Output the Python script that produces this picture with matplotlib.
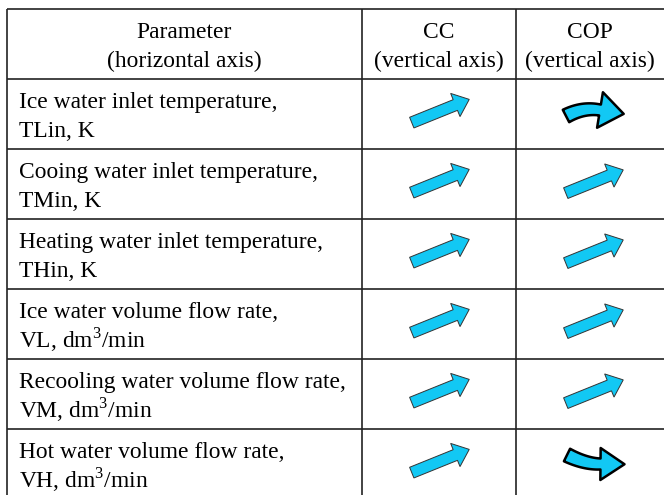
import numpy as np
import matplotlib
matplotlib.use("Agg")
import matplotlib.pyplot as plt
from matplotlib.patches import Polygon

plt.rcParams["font.family"] = ["Liberation Serif", "DejaVu Serif"]
plt.rcParams["mathtext.fontset"] = "custom"
plt.rcParams["mathtext.rm"] = "Liberation Serif"

# Table content
header = [("Parameter", "(horizontal axis)"),
          ("CC", "(vertical axis)"),
          ("COP", "(vertical axis)")]
parameters = [
    ("Ice water inlet temperature,", "TLin, K"),
    ("Cooing water inlet temperature,", "TMin, K"),
    ("Heating water inlet temperature,", "THin, K"),
    ("Ice water volume flow rate,", r"VL, dm$^{\mathrm{3}}$/min"),
    ("Recooling water volume flow rate,", r"VM, dm$^{\mathrm{3}}$/min"),
    ("Hot water volume flow rate,", r"VH, dm$^{\mathrm{3}}$/min"),
]
# Trend of each response with the parameter
cc_trend = ["increase", "increase", "increase", "increase", "increase", "increase"]
cop_trend = ["rise_flatten", "increase", "increase", "increase", "increase", "rise_fall"]

# Layout (pixel units, y downward)
W, H = 664, 495
col_edges = [7, 362, 516, 664]
top = 9
row_h = 70
n_rows = len(parameters) + 1
row_edges = [top + i * row_h for i in range(n_rows + 1)]

fig = plt.figure(figsize=(W / 100, H / 100), dpi=100)
ax = fig.add_axes([0, 0, 1, 1])
ax.set_xlim(0, W)
ax.set_ylim(H, 0)
ax.axis("off")

line_kw = dict(color="#222222", lw=1.2, solid_capstyle="butt")
for y in row_edges[:-1]:
    ax.plot([col_edges[0], W], [y, y], **line_kw)
for x in col_edges[:-1]:
    ax.plot([x, x], [top, H], **line_kw)

fs = 16.9
for j, (l1, l2) in enumerate(header):
    cx = (col_edges[j] + col_edges[j + 1]) / 2
    ax.text(cx, top + 29, l1, ha="center", va="baseline", fontsize=fs)
    ax.text(cx, top + 58, l2, ha="center", va="baseline", fontsize=fs)

for i, (l1, l2) in enumerate(parameters):
    y0 = row_edges[i + 1]
    ax.text(19, y0 + 29, l1, ha="left", va="baseline", fontsize=fs)
    ax.text(19, y0 + 58, l2, ha="left", va="baseline", fontsize=fs)

CYAN = "#12c8f4"


def arrow_polygon(center_pts, shaft_w, head_w, head_l):
    """Outline of an arrow whose shaft follows center_pts and ends in a head."""
    p = np.asarray(center_pts, float)
    d = np.gradient(p, axis=0)
    d /= np.linalg.norm(d, axis=1)[:, None]
    nrm = np.column_stack([-d[:, 1], d[:, 0]])
    sw = np.broadcast_to(np.asarray(shaft_w, float), (len(p),))[:, None]
    left = p + nrm * sw / 2
    right = p - nrm * sw / 2
    end, de, ne = p[-1], d[-1], nrm[-1]
    tip = end + de * head_l
    head = [end + ne * head_w / 2, tip, end - ne * head_w / 2]
    return np.vstack([left, head, right[::-1]])


def straight(cx, cy):
    ang = np.deg2rad(22)
    u = np.array([np.cos(ang), -np.sin(ang)])
    c = np.array([cx, cy])
    total, hl = 62, 15
    start = c - u * total / 2
    end = c + u * (total / 2 - hl)
    pts = [start + t * (end - start) for t in np.linspace(0, 1, 10)]
    return arrow_polygon(pts, 11.5, 25, hl)


def bezier(p0, p1, p2, n=30):
    t = np.linspace(0, 1, n)[:, None]
    p0, p1, p2 = map(np.asarray, (p0, p1, p2))
    return (1 - t) ** 2 * p0 + 2 * (1 - t) * t * p1 + t ** 2 * p2


def curved(kind, cx, cy):
    if kind == "rise_flatten":
        pts = bezier((cx - 24, cy + 2), (cx - 7, cy - 7), (cx + 10, cy - 4))
        return arrow_polygon(pts, np.linspace(14, 11, len(pts)), 36, 24)
    pts = bezier((cx - 23, cy - 9), (cx - 5, cy + 0), (cx + 10.5, cy + 0))
    return arrow_polygon(pts, np.linspace(14, 11, len(pts)), 32, 24)


for i in range(len(parameters)):
    cy = (row_edges[i + 1] + row_edges[i + 2]) / 2
    cx_cc = (col_edges[1] + col_edges[2]) / 2
    cx_cop = (col_edges[2] + col_edges[3]) / 2
    if cc_trend[i] == "increase":
        ax.add_patch(Polygon(straight(cx_cc + 1.5, cy - 3), closed=True,
                             fc=CYAN, ec="#333333", lw=0.7, joinstyle="miter"))
    if cop_trend[i] == "increase":
        ax.add_patch(Polygon(straight(cx_cop + 4.5, cy - 2.5), closed=True,
                             fc=CYAN, ec="#333333", lw=0.7, joinstyle="miter"))
    else:
        ax.add_patch(Polygon(curved(cop_trend[i], cx_cop, cy), closed=True,
                             fc=CYAN, ec="black", lw=1.8, joinstyle="round"))

fig.savefig("out.png", dpi=100)
